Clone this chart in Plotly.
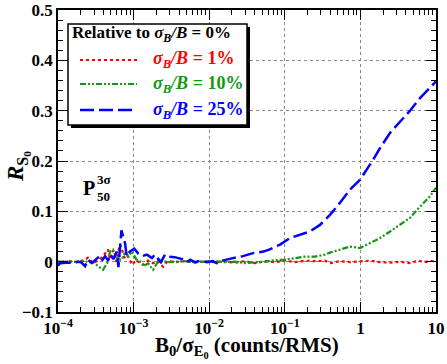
import plotly.graph_objects as go

# ---- data ----
x_red = [1.0e-4, 1.06e-4, 1.28e-4, 1.53e-4, 1.84e-4, 2.28e-4, 2.49e-4, 2.90e-4, 3.38e-4, 3.94e-4,
         4.58e-4, 4.87e-4, 5.34e-4, 5.85e-4, 6.61e-4, 7.03e-4, 7.70e-4, 8.43e-4, 9.53e-4, 1.08e-3,
         1.22e-3, 1.37e-3, 1.55e-3, 1.81e-3, 2.10e-3, 2.45e-3, 2.85e-3, 3.53e-3, 4.79e-3, 6.49e-3,
         8.80e-3, 1.19e-2, 1.62e-2, 2.19e-2, 2.98e-2, 4.04e-2, 5.47e-2, 7.42e-2, 0.101, 0.136,
         0.185, 0.251, 0.340, 0.396, 0.537, 0.728, 0.99, 1.34, 1.82, 2.47,
         3.34, 4.53, 5.78, 7.15, 8.34, 10.0]
y_red = [-0.006, -0.001, 0.0, 0.001, -0.001, 0.004, 0.008, -0.003, 0.002, 0.011,
         0.024, 0.005, 0.022, 0.0, 0.034, 0.024, 0.006, 0.011, -0.006, 0.003,
         -0.003, -0.006, 0.002, -0.003, 0.001, -0.010, 0.002, -0.001, 0.001, -0.002,
         0.001, -0.001, 0.0, -0.002, 0.001, -0.003, 0.001, -0.001, 0.002, -0.001,
         0.002, 0.001, 0.002, -0.003, 0.001, -0.001, 0.001, 0.002, -0.001, -0.002,
         0.0, -0.003, 0.002, -0.001, 0.002, 0.0]

x_green = x_red
y_green = [0.0, 0.0, 0.001, 0.0, -0.001, 0.002, -0.002, 0.0, -0.009, -0.016,
           0.0, 0.020, 0.024, 0.010, 0.004, 0.004, 0.020, 0.010, 0.020, 0.005,
           0.0, -0.009, -0.003, -0.016, 0.0, 0.001, -0.001, 0.0, 0.001, -0.001,
           0.0, 0.001, -0.001, 0.0, -0.003, -0.002, 0.0, 0.003, 0.004, 0.007,
           0.010, 0.010, 0.014, 0.018, 0.024, 0.030, 0.027, 0.037, 0.047, 0.060,
           0.073, 0.087, 0.105, 0.120, 0.130, 0.147]

x_blue = [1.0e-4, 1.06e-4, 1.28e-4, 1.53e-4, 1.66e-4, 1.84e-4, 2.05e-4, 2.28e-4, 2.49e-4, 2.8e-4,
          3.38e-4, 3.7e-4, 4.2e-4, 4.6e-4, 4.9e-4, 5.4e-4, 6.0e-4, 6.3e-4, 6.9e-4, 7.7e-4,
          8.1e-4, 8.9e-4, 1.02e-3, 1.15e-3, 1.29e-3, 1.5e-3, 1.75e-3, 1.9e-3, 2.1e-3, 2.3e-3,
          2.6e-3, 2.9e-3, 3.5e-3, 4.4e-3, 5.1e-3, 5.6e-3, 6.5e-3, 7.6e-3, 9.3e-3, 1.1e-2,
          1.26e-2, 1.5e-2, 2.05e-2, 2.8e-2, 3.8e-2, 5.2e-2, 6.2e-2, 0.0865, 0.117, 0.159,
          0.215, 0.292, 0.396, 0.537, 0.728, 0.99, 1.21, 1.47, 1.82, 2.47,
          3.34, 4.53, 6.14, 8.34, 10.0]
y_blue = [-0.008, -0.003, -0.002, -0.003, -0.002, 0.0, -0.002, -0.009, 0.004, -0.003,
          0.008, 0.0, 0.011, 0.002, 0.014, 0.005, 0.020, -0.011, 0.062, 0.037,
          0.011, 0.020, 0.026, 0.016, 0.011, 0.014, 0.007, 0.014, 0.007, -0.001,
          0.014, 0.010, 0.009, 0.005, -0.001, 0.004, -0.001, 0.002, -0.001, 0.001,
          -0.003, 0.002, 0.007, 0.011, 0.017, 0.020, 0.024, 0.034, 0.047, 0.054,
          0.060, 0.073, 0.093, 0.117, 0.143, 0.163, 0.183, 0.202, 0.226, 0.256,
          0.278, 0.300, 0.325, 0.345, 0.358]

x_tickvals = [1e-4, 1e-3, 1e-2, 1e-1, 1, 10]
x_ticktext = ["10<sup>\u22124</sup>", "10<sup>\u22123</sup>", "10<sup>\u22122</sup>",
              "10<sup>\u22121</sup>", "1", "10"]
y_tickvals = [-0.1, 0.0, 0.1, 0.2, 0.3, 0.4, 0.5]
y_ticktext = ["\u22120.1", "0", "0.1", "0.2", "0.3", "0.4", "0.5"]

RED = "#ff0000"
GREEN = "#119911"
BLUE = "#0000ff"
SERIF = "Liberation Serif, Times New Roman, serif"

# plot area in pixels (for placing legend/labels)
L, R, T, B = 58, 436, 10, 312


def px(xp):
    return (xp - L) / (R - L)


def py(yp):
    return (B - yp) / (B - T)


fig = go.Figure()
fig.add_trace(go.Scatter(x=x_red, y=y_red, mode="lines",
                         line=dict(color=RED, width=2.2, dash="dot")))
fig.add_trace(go.Scatter(x=x_green, y=y_green, mode="lines",
                         line=dict(color=GREEN, width=2.2, dash="6px,2px,2px,2px,2px,2px")))
fig.add_trace(go.Scatter(x=x_blue, y=y_blue, mode="lines",
                         line=dict(color=BLUE, width=2.5, dash="14px,5px")))

minor_x = [m * 10 ** e for e in range(-4, 1) for m in range(2, 10)]

fig.update_xaxes(type="log", range=[-4, 1], automargin=False,
                 tickmode="array", tickvals=x_tickvals, ticktext=x_ticktext,
                 ticks="inside", ticklen=10, tickwidth=1, tickcolor="black",
                 minor=dict(tickmode="array", tickvals=minor_x, ticks="inside",
                            ticklen=5, tickcolor="black", showgrid=False),
                 showline=True, linecolor="black", linewidth=1.5, mirror="allticks",
                 showgrid=True, gridcolor="#888", griddash="dot", gridwidth=1,
                 zeroline=False,
                 tickfont=dict(family=SERIF, size=17, color="black", weight="bold"))
fig.update_yaxes(range=[-0.1, 0.5], automargin=False,
                 tickmode="array", tickvals=y_tickvals, ticktext=y_ticktext,
                 ticks="inside", ticklen=10, tickwidth=1, tickcolor="black",
                 minor=dict(dtick=0.02, ticks="inside", ticklen=5, tickcolor="black",
                            showgrid=False),
                 showline=True, linecolor="black", linewidth=1.5, mirror="allticks",
                 showgrid=True, gridcolor="#888", griddash="dot", gridwidth=1,
                 zeroline=False,
                 tickfont=dict(family=SERIF, size=17, color="black", weight="bold"))

shapes = []
# legend box with shadow
shapes.append(dict(type="rect", xref="paper", yref="paper",
                   x0=px(71), x1=px(250), y0=py(128), y1=py(27),
                   fillcolor="black", line=dict(width=0)))
shapes.append(dict(type="rect", xref="paper", yref="paper",
                   x0=px(68), x1=px(247), y0=py(125), y1=py(24),
                   fillcolor="white", line=dict(color="black", width=1.5)))
legend_rows = [(60, RED, "dot", 2.2, "1%"),
               (84, GREEN, "6px,2px,2px,2px,2px,2px", 2.2, "10%"),
               (110, BLUE, "14px,5px", 2.5, "25%")]
annotations = []
for yy, col, dash, w, pct in legend_rows:
    shapes.append(dict(type="line", xref="paper", yref="paper",
                       x0=px(80), x1=px(137), y0=py(yy), y1=py(yy),
                       line=dict(color=col, width=w, dash=dash)))
    annotations.append(dict(x=px(151), y=py(yy), xref="paper", yref="paper",
                            text="<i>\u03c3<sub>B</sub>/B</i> = " + pct, showarrow=False,
                            xanchor="left", yanchor="middle",
                            font=dict(family=SERIF, size=18, color=col, weight="bold")))
annotations.append(dict(x=px(70), y=py(34), xref="paper", yref="paper",
                        text="Relative to <i>\u03c3<sub>B</sub>/B</i> = 0%", showarrow=False,
                        xanchor="left", yanchor="middle",
                        font=dict(family=SERIF, size=17, color="black", weight="bold")))

# P label
annotations.append(dict(x=px(81), y=py(188), xref="paper", yref="paper", text="P",
                        showarrow=False, xanchor="left", yanchor="middle",
                        font=dict(family=SERIF, size=20, color="black", weight="bold")))
annotations.append(dict(x=px(95), y=py(179), xref="paper", yref="paper", text="3\u03c3",
                        showarrow=False, xanchor="left", yanchor="middle",
                        font=dict(family=SERIF, size=13, color="black", weight="bold")))
annotations.append(dict(x=px(95), y=py(197), xref="paper", yref="paper", text="50",
                        showarrow=False, xanchor="left", yanchor="middle",
                        font=dict(family=SERIF, size=13, color="black", weight="bold")))

# axis titles
annotations.append(dict(x=px(247), y=py(347), xref="paper", yref="paper",
                        text="B<sub>0</sub>/\u03c3<sub>E<sub>0</sub></sub> (counts/RMS)",
                        showarrow=False, xanchor="center", yanchor="middle",
                        font=dict(family=SERIF, size=21, color="black", weight="bold")))
annotations.append(dict(x=px(18), y=py(167), xref="paper", yref="paper",
                        text="<i>R</i><sub>S<sub>0</sub></sub>", textangle=-90,
                        showarrow=False, xanchor="center", yanchor="middle",
                        font=dict(family=SERIF, size=23, color="black", weight="bold")))

fig.update_layout(template="none", width=447, height=364,
                  margin=dict(l=L, r=447 - R, t=T, b=364 - B, autoexpand=False),
                  paper_bgcolor="white", plot_bgcolor="white",
                  showlegend=False, shapes=shapes, annotations=annotations)

# the page body has a default 8px margin; drop it so the chart sits at the corner
fig.write_html("out.html", config={"displayModeBar": False},
               post_script="document.body.style.margin='0';")
